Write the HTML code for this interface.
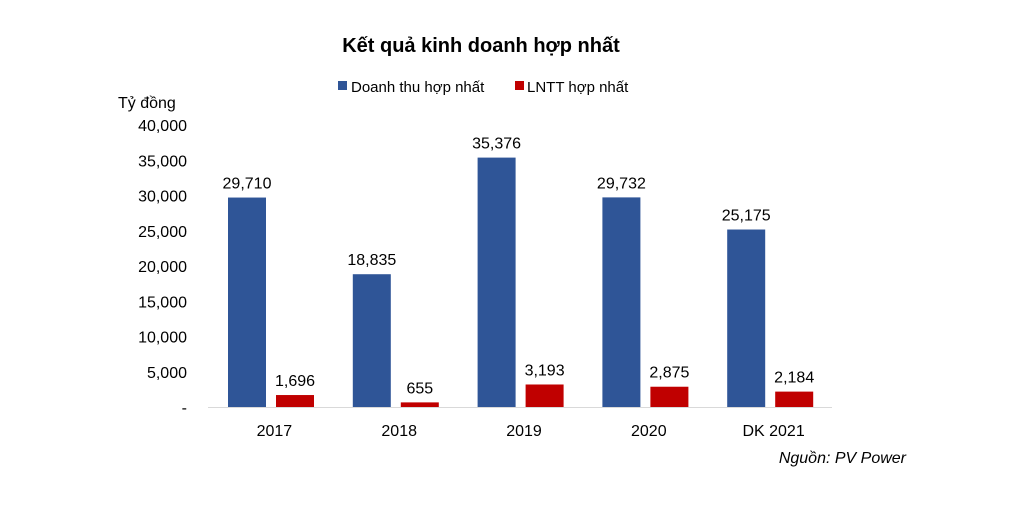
<!DOCTYPE html>
<html><head><meta charset="utf-8"><style>
body{margin:0;background:#fff;}
svg text{font-family:"Liberation Sans",sans-serif;fill:#000;}
</style></head><body>
<svg width="1028" height="524" xmlns="http://www.w3.org/2000/svg">
<text x="481" y="52" text-anchor="middle" font-size="20" font-weight="bold">Kết quả kinh doanh hợp nhất</text>
<g>
<rect x="338" y="81" width="9" height="9" fill="#2f5597"/>
<text x="351" y="92" font-size="15">Doanh thu hợp nhất</text>
<rect x="515" y="81" width="9" height="9" fill="#c00000"/>
<text x="527" y="92" font-size="15">LNTT hợp nhất</text>
</g>
<text x="118" y="108" font-size="16">Tỷ đồng</text>
<text x="906" y="463" text-anchor="end" font-size="16" font-style="italic">Nguồn: PV Power</text>
<g id="plot"></g>
</svg>
<script>
const categories=["2017","2018","2019","2020","DK 2021"];
const revenue=[29710,18835,35376,29732,25175];
const profit=[1696,655,3193,2875,2184];
const yTicks=[0,5000,10000,15000,20000,25000,30000,35000,40000];
const NS="http://www.w3.org/2000/svg";
const g=document.getElementById('plot');
const x0=208,x1=832,yBase=407,yTop=125,yMax=40000;
const cw=(x1-x0)/categories.length;
function y(v){return yBase-(v/yMax)*(yBase-yTop);}
function fmt(v){return v.toLocaleString('en-US');}
function mk(tag,attrs,txt){const e=document.createElementNS(NS,tag);for(const k in attrs)e.setAttribute(k,attrs[k]);if(txt!==undefined)e.textContent=txt;g.appendChild(e);return e;}
yTicks.forEach(t=>{
  const e=mk('text',{x:187,y:y(t)+6,'text-anchor':'end','font-size':16},t===0?'-':fmt(t));
  
  
});
const ax=mk('line',{x1:x0,x2:x1,y1:yBase+0.5,y2:yBase+0.5,stroke:'#d9d9d9','stroke-width':1});


categories.forEach((c,i)=>{
  const cx=x0+i*cw;
  const l=mk('text',{x:cx+cw/2+4,y:yBase+29,'text-anchor':'middle','font-size':16},c);
  
  
  [[revenue[i],'#2f5597',20,'revenue'],[profit[i],'#c00000',68,'profit']].forEach(([v,col,off,nm])=>{
    const b=mk('rect',{x:cx+off,y:y(v),width:38,height:yBase-y(v),fill:col});
    
    
    const t=mk('text',{x:cx+off+19,y:y(v)-9,'text-anchor':'middle','font-size':16},fmt(v));
    
    
  });
});
</script>
</body></html>
